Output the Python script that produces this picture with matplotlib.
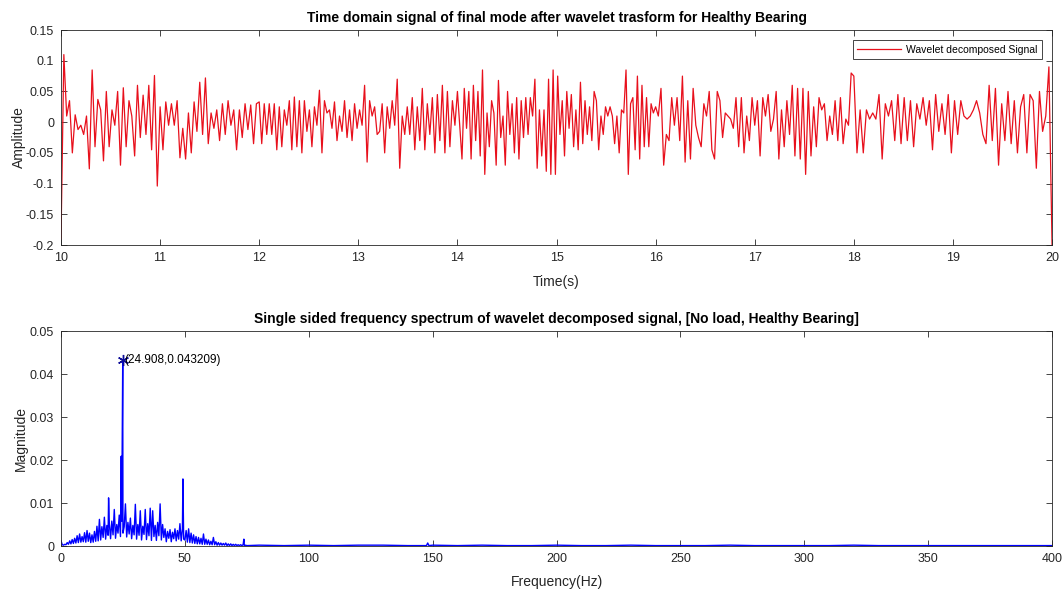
import numpy as np
import matplotlib
matplotlib.use("Agg")
import matplotlib.pyplot as plt

plt.rcParams['font.family'] = ['Liberation Sans', 'DejaVu Sans']

# wavelet-decomposed time signal, one list per 2 s stretch (amplitude)
amp_10_12 = [-0.19, 0.11, 0.01, 0.035, -0.05, 0.012, -0.012, -0.005, -0.02, 0.01,
             -0.076, 0.085, -0.04, 0.037, 0.02, -0.063, 0.05, -0.04, 0.02, -0.005,
             0.05, -0.07, 0.056, -0.04, 0.035, 0.01, -0.055, 0.06, -0.025, 0.044,
             -0.02, 0.06, -0.045, 0.076, -0.104, 0.025, -0.045, 0.033, -0.005, 0.03,
             -0.005, 0.035, -0.058, -0.01, -0.06, 0.015, -0.05, 0.033, -0.015, 0.065,
             -0.02, 0.072, -0.035, 0.015, -0.01, 0.02, -0.03, 0.03, -0.02, 0.035,
             -0.005, 0.02, -0.045, 0.02, -0.025, 0.03, -0.012, 0.028, -0.035, 0.03]
amp_12_14 = [0.033, -0.035, 0.03, -0.02, 0.03, -0.02, 0.03, -0.045, 0.025, -0.04,
             0.02, -0.005, 0.035, -0.045, 0.041, -0.04, 0.035, -0.05, 0.035, -0.015,
             0.02, -0.04, 0.025, -0.005, 0.052, -0.05, 0.035, 0.015, 0.02, -0.01,
             0.033, -0.03, 0.01, -0.015, 0.035, -0.025, 0.02, -0.03, 0.03, -0.01,
             0.02, -0.005, 0.06, -0.065, 0.035, 0.01, 0.025, -0.02, -0.015, 0.03,
             -0.05, 0.025, -0.01, 0.035, -0.005, 0.07, -0.075, 0.01, -0.02, 0.025,
             -0.02, 0.04, -0.045, 0.025, -0.03, 0.055, -0.045, 0.03, -0.02, 0.04,
             -0.05, 0.045, -0.03, 0.06, -0.05, 0.05, -0.04, 0.035, -0.005]
amp_14_16 = [0.05, -0.005, -0.06, 0.055, -0.01, 0.05, -0.06, 0.06, -0.03, 0.05,
             -0.055, 0.085, -0.085, 0.015, -0.04, 0.035, 0.015, -0.07, 0.068, -0.025,
             0.01, -0.07, 0.05, -0.02, 0.03, -0.05, 0.04, -0.06, 0.035, -0.025,
             0.04, -0.02, 0.04, 0.01, 0.07, -0.075, 0.02, -0.055, 0.02, -0.08,
             0.07, -0.085, 0.085, -0.085, 0.075, -0.02, 0.035, -0.055, 0.05, -0.01,
             0.045, -0.04, 0.02, -0.045, 0.065, -0.035, 0.035, -0.02, 0.025, -0.03,
             0.05, 0.035, -0.045, 0.01, -0.02, 0.025, 0.01, 0.025, 0.01, -0.035,
             0.01, -0.05, 0.02, 0.015, 0.085, -0.085, 0.03, 0.04, -0.045, 0.075,
             -0.06, 0.06, -0.04, 0.04, -0.04, 0.03, 0.015]
amp_16_18 = [0.025, 0.01, 0.055, -0.07, -0.02, -0.03, 0.04, -0.005, 0.04, -0.03,
             0.075, -0.065, 0.035, -0.06, 0.055, -0.005, -0.025, -0.04, 0.03, 0.01,
             0.05, -0.045, -0.06, 0.05, 0.035, -0.025, 0.015, 0.01, 0.005, -0.01,
             0.04, -0.04, 0.04, -0.05, 0.01, -0.03, 0.04, -0.005, 0.035, -0.055,
             0.04, 0.01, 0.045, -0.015, 0.005, 0.05, -0.06, 0.02, -0.04, 0.035,
             -0.02, 0.06, -0.055, 0.055, -0.06, 0.055, -0.085, 0.05, -0.055, 0.025,
             -0.04, 0.04, 0.02, 0.03, -0.03, 0.01, -0.02, 0.035, -0.03, 0.04,
             -0.035, 0.005, -0.005, 0.08]
amp_18_20 = [0.075, -0.05, 0.02, -0.05, 0.02, 0.005, 0.015, 0.005, 0.045, -0.06,
             0.03, 0.01, 0.035, -0.03, 0.045, -0.035, 0.04, -0.03, 0.035, -0.04,
             0.03, 0.005, 0.04, -0.005, 0.035, -0.045, 0.045, -0.015, 0.03, -0.02,
             0.045, -0.05, 0.035, -0.02, 0.035, 0.01, 0.005, 0.01, 0.02, 0.035,
             0.015, -0.02, -0.035, 0.06, -0.03, 0.055, -0.07, 0.03, -0.03, 0.05,
             -0.035, 0.035, -0.05, 0.025, 0.045, -0.05, 0.045, 0.035, -0.075, 0.05,
             -0.015, 0.01, 0.09, -0.2]
segments = [(10, 12, amp_10_12), (12, 14, amp_12_14), (14, 16, amp_14_16),
            (16, 18, amp_16_18), (18, 20, amp_18_20)]

# single-sided spectrum: 0-75 Hz band sampled every 0.5 Hz
band_mag = [0.0012, 0.0003, 0.0002, 0.0004, 0.0003, 0.0008, 0.0004, 0.0012, 0.0005, 0.0015,
            0.0006, 0.0018, 0.0007, 0.0024, 0.0008, 0.0028, 0.0009, 0.0022, 0.0010, 0.0031,
            0.0009, 0.0036, 0.0011, 0.0030, 0.0008, 0.0026, 0.0009, 0.0034, 0.0011, 0.0046,
            0.0012, 0.0062, 0.0014, 0.0045, 0.0020, 0.0067, 0.0016, 0.0048, 0.0025, 0.0052,
            0.0017, 0.0058, 0.0026, 0.0085, 0.0018, 0.0050, 0.0030, 0.0072, 0.0022, 0.0058,
            0.0030, 0.0045, 0.0098, 0.0021, 0.0055, 0.0028, 0.0065, 0.0017, 0.0048, 0.0026,
            0.0097, 0.0016, 0.0050, 0.0025, 0.0082, 0.0014, 0.0046, 0.0027, 0.0085, 0.0015,
            0.0052, 0.0024, 0.0088, 0.0013, 0.0082, 0.0022, 0.0048, 0.0013, 0.0055, 0.0024,
            0.0098, 0.0014, 0.0050, 0.0020, 0.0040, 0.0010, 0.0034, 0.0018, 0.0038, 0.0010,
            0.0032, 0.0017, 0.0040, 0.0012, 0.0036, 0.0016, 0.0052, 0.0012, 0.0040, 0.0016,
            0.0014, 0.0036, 0.0009, 0.0040, 0.0008, 0.0030, 0.0007, 0.0026, 0.0006, 0.0022,
            0.0005, 0.0020, 0.0005, 0.0018, 0.0004, 0.0028, 0.0004, 0.0016, 0.0004, 0.0014,
            0.0003, 0.0011, 0.0003, 0.0020, 0.0003, 0.0010, 0.0002, 0.0008, 0.0002, 0.0007,
            0.0002, 0.0006, 0.0002, 0.0007, 0.0001, 0.0005, 0.0001, 0.0005, 0.0001, 0.0004,
            0.0001, 0.0004, 0.0001, 0.0003, 0.0001, 0.0003, 0.0001, 0.0003, 0.0001, 0.0002,
            0.0001]
# narrow spectral lines with their shoulders (Hz, magnitude)
line_freq = [19.2, 24.3, 24.908, 49.2, 73.8, 147.5, 148.0, 148.5]
line_mag = [0.0112, 0.0209, 0.043209, 0.0156, 0.0016, 0.0001, 0.0007, 0.0001]
# high-frequency floor, 80-400 Hz every 10 Hz
tail_mag = [0.0002, 0.0001, 0.0002, 0.0001, 0.0002, 0.0002, 0.0001, 0.0002, 0.0001, 0.0002,
            0.0001, 0.0001, 0.0002, 0.0001, 0.0001, 0.0002, 0.0001, 0.0001, 0.0001, 0.0002,
            0.0001, 0.0001, 0.0001, 0.0001, 0.0002, 0.0001, 0.0001, 0.0001, 0.0001, 0.0001,
            0.0001, 0.0001, 0.0001]

peak_label = (24.908, 0.043209)

edge = '0.15'


def matlab_axes(ax):
    for s in ax.spines.values():
        s.set_color(edge)
        s.set_linewidth(0.6)
    ax.tick_params(direction='in', top=True, right=True, length=4, width=0.6,
                   color=edge, labelcolor=edge, labelsize=9, pad=5)


fig = plt.figure(figsize=(10.63, 5.91), dpi=100)
ax1 = fig.add_axes([0.0574, 0.5854, 0.9323, 0.3638])
ax2 = fig.add_axes([0.0574, 0.0761, 0.9323, 0.3638])

# time domain
t_all, a_all = [], []
for t0, t1, amps in segments:
    t_all.append(np.linspace(t0, t1, len(amps), endpoint=(t1 == 20)))
    a_all.append(np.array(amps))
t_all = np.concatenate(t_all)
a_all = np.concatenate(a_all)
ax1.plot(t_all, a_all, color='#e8101c', lw=0.9, label='Wavelet decomposed Signal')
ax1.set_xlim(10, 20)
ax1.set_ylim(-0.2, 0.15)
ax1.set_xticks(range(10, 21))
yt = [-0.2, -0.15, -0.1, -0.05, 0, 0.05, 0.1, 0.15]
ax1.set_yticks(yt)
ax1.set_yticklabels(['-0.2', '-0.15', '-0.1', '-0.05', '0', '0.05', '0.1', '0.15'])
ax1.set_xlabel('Time(s)', fontsize=10, color=edge, labelpad=8)
ax1.set_ylabel('Amplitude', fontsize=10, color=edge, labelpad=0)
ax1.set_title('Time domain signal of final mode after wavelet trasform for Healthy Bearing',
              fontsize=10, fontweight='bold', pad=6)
leg = ax1.legend(loc='upper right', fontsize=7.5, fancybox=False, framealpha=1,
                 edgecolor=edge, handlelength=4.2, borderaxespad=1.0,
                 borderpad=0.4, handletextpad=0.5)
leg.get_frame().set_linewidth(0.6)
matlab_axes(ax1)

# spectrum
band_freq = np.arange(len(band_mag)) * 0.5
tail_freq = np.arange(80, 401, 10)
f = np.concatenate([band_freq, line_freq, tail_freq])
m = np.concatenate([band_mag, line_mag, tail_mag])
order = np.argsort(f)
ax2.plot(f[order], m[order], color=(0, 0, 1), lw=1.0)
ax2.plot(peak_label[0], peak_label[1], marker=(6, 2, 0), color=(0.05, 0.05, 0.6),
         ms=8, mew=1.0)
ax2.text(peak_label[0] + 0.8, peak_label[1], '(%.3f,%g)' % peak_label,
         fontsize=8.5, va='center', ha='left')
ax2.set_xlim(0, 400)
ax2.set_ylim(0, 0.05)
ax2.set_xticks(range(0, 401, 50))
ax2.set_yticks([0, 0.01, 0.02, 0.03, 0.04, 0.05])
ax2.set_yticklabels(['0', '0.01', '0.02', '0.03', '0.04', '0.05'])
ax2.set_xlabel('Frequency(Hz)', fontsize=10, color=edge, labelpad=7)
ax2.set_ylabel('Magnitude', fontsize=10, color=edge, labelpad=1)
ax2.set_title('Single sided frequency spectrum of wavelet decomposed signal, [No load, Healthy Bearing]',
              fontsize=10, fontweight='bold', pad=6)
matlab_axes(ax2)

fig.savefig('out.png', dpi=100)
